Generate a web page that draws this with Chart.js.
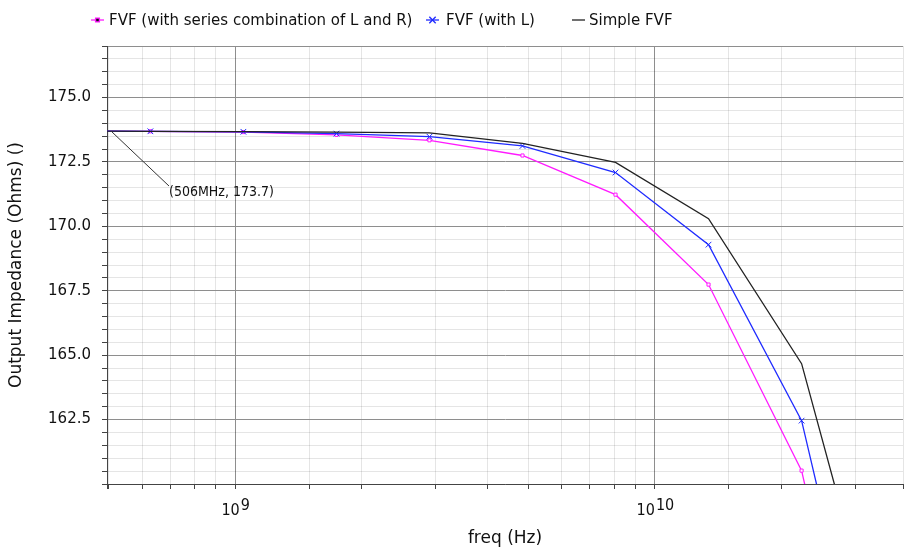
<!DOCTYPE html>
<html>
<head>
<meta charset="utf-8">
<script src="https://cdn.jsdelivr.net/npm/chart.js@4/dist/chart.umd.min.js"></script>
<style>
	html, body { margin: 0; background: #fff; }
	#wrap { width: 908px; height: 550px; }
</style>
</head>
<body>
<div id="wrap"><canvas id="zChart"></canvas></div>
<script>
// Data
const freqs      = [3.77e8, 6.28e8, 1.046e9, 1.743e9, 2.903e9, 4.836e9, 8.057e9, 1.342e10, 2.236e10, 3.725e10];
const zSeriesLR  = [173.70, 173.69, 173.66, 173.55, 173.34, 172.75, 171.23, 167.74, 160.52, 144.7];
const zWithL     = [173.70, 173.69, 173.67, 173.60, 173.48, 173.12, 172.09, 169.29, 162.46, 147.1];
const zSimple    = [173.70, 173.69, 173.68, 173.66, 173.63, 173.22, 172.48, 170.30, 164.67, 151.4];
const seriesNames = ['FVF (with series combination of L and R)', 'FVF (with L)', 'Simple FVF'];
const decades    = [1e9, 1e10];
const xRange     = [4.95e8, 3.9e10];
const yRange     = [160, 177];
const markerPoint = { f: 5.06e8, z: 173.7, text: '(506MHz, 173.7)' };

const FONT_C = '"DejaVu Sans Condensed", "DejaVu Sans", sans-serif';
const FONT = '"DejaVu Sans", sans-serif';
const TEXT = '#111';
const MAJOR_GRID = '#8e8e8e';
const MINOR_GRID = 'rgba(0,0,0,0.1)';   // translucent so it doesn't cut the major lines

const toPoints = (ys) => freqs.map((f, i) => ({ x: f, y: ys[i] }));
const isDecade = (v) => Math.abs(Math.log10(v) - Math.round(Math.log10(v))) < 1e-6;
const isMajorY = (v) => Math.abs(v / 2.5 - Math.round(v / 2.5)) < 1e-6;

// legend drawn by hand so it sits where the original does
const legendItems = [
	{ x: 91,  textX: 109, idx: 0 },
	{ x: 426, textX: 446, idx: 1 },
	{ x: 572, textX: 589, idx: 2 },
];

const legendPlugin = {
	id: 'handLegend',
	afterDraw(chart) {
		const ctx = chart.ctx;
		const y = 20;
		ctx.save();
		ctx.font = '15px ' + FONT;
		ctx.textBaseline = 'middle';
		ctx.fillStyle = TEXT;
		legendItems.forEach(item => {
			const ds = chart.data.datasets[item.idx];
			ctx.strokeStyle = ds.borderColor;
			ctx.lineWidth = 1.3;
			ctx.beginPath();
			ctx.moveTo(item.x, y);
			ctx.lineTo(item.x + 13, y);
			ctx.stroke();
			if (ds.pointRadius > 0) {
				Chart.helpers.drawPoint(ctx, {
					pointStyle: ds.pointStyle,
					radius: ds.pointRadius + 0.5,
					borderWidth: 1,
				}, item.x + 6.5, y);
			}
			ctx.fillText(seriesNames[item.idx], item.textX, y + 1);
		});
		ctx.restore();
	}
};

// 10^9 / 10^10 labels with a real superscript
const decadeLabels = {
	id: 'decadeLabels',
	afterDraw(chart) {
		const ctx = chart.ctx;
		const xs = chart.scales.x;
		const base = chart.chartArea.bottom + 31;
		ctx.save();
		ctx.fillStyle = TEXT;
		ctx.textBaseline = 'alphabetic';
		decades.forEach(d => {
			const px = xs.getPixelForValue(d);
			const exp = String(Math.round(Math.log10(d)));
			ctx.font = '16px ' + FONT_C;
			const wBase = ctx.measureText('10').width;
			const wExp = ctx.measureText(exp).width;
			const left = px - (wBase + wExp) / 2;
			ctx.fillText('10', left, base);
			ctx.fillText(exp, left + wBase + 1, base - 5);
		});
		ctx.restore();
	}
};

// the point marker with leader line
const pointMarker = {
	id: 'pointMarker',
	afterDatasetsDraw(chart) {
		const ctx = chart.ctx;
		const px = chart.scales.x.getPixelForValue(markerPoint.f);
		const py = chart.scales.y.getPixelForValue(markerPoint.z);
		ctx.save();
		ctx.strokeStyle = '#333';
		ctx.lineWidth = 1;
		ctx.beginPath();
		ctx.moveTo(px, py);
		ctx.lineTo(px + 58, py + 55);
		ctx.stroke();
		ctx.font = '14px ' + FONT_C;
		ctx.fillStyle = TEXT;
		ctx.textBaseline = 'middle';
		ctx.fillText(markerPoint.text, px + 58, py + 61);
		ctx.restore();
	}
};

new Chart(document.getElementById('zChart'), {
	type: 'line',
	data: {
		datasets: [
			{
				label: seriesNames[0],
				data: toPoints(zSeriesLR),
				borderColor: '#ff1aff',
				backgroundColor: '#ffffff',
				pointStyle: 'rect',
				pointRadius: 2.2,
				pointBorderWidth: 1,
				borderWidth: 1.3,
				order: 2,
			},
			{
				label: seriesNames[1],
				data: toPoints(zWithL),
				borderColor: '#1f2bff',
				backgroundColor: '#1f2bff',
				pointStyle: 'crossRot',
				pointRadius: 4,
				pointBorderWidth: 1,
				borderWidth: 1.3,
				order: 1,
			},
			{
				label: seriesNames[2],
				data: toPoints(zSimple),
				borderColor: '#222222',
				backgroundColor: '#222222',
				pointRadius: 0,
				borderWidth: 1.3,
				order: 0,
			},
		]
	},
	options: {
		responsive: true,
		maintainAspectRatio: false,
		animation: false,
		events: [],
		layout: { padding: { top: 46, right: 0, left: 0, bottom: 0 } },
		plugins: {
			legend: { display: false },
			tooltip: { enabled: false },
		},
		scales: {
			x: {
				type: 'logarithmic',
				min: xRange[0],
				max: xRange[1],
				afterFit: (s) => { s.height = 66; },
				ticks: { display: false, autoSkip: false },
				grid: {
					color: (c) => isDecade(c.tick.value) ? MAJOR_GRID : MINOR_GRID,
					tickColor: '#444',
					tickLength: 5,
					drawTicks: true,
				},
				border: { color: '#444', width: 1 },
				title: {
					display: true,
					text: 'freq (Hz)',
					color: TEXT,
					font: { family: FONT, size: 17 },
					padding: { top: 0, bottom: 1 },
				},
			},
			y: {
				min: yRange[0],
				max: yRange[1],
				afterFit: (s) => { s.width = 107; },
				ticks: {
					stepSize: 0.5,
					autoSkip: false,
					padding: 11,
					color: TEXT,
					font: { family: FONT, size: 15 },
					callback: (v) => (isMajorY(v) && v > yRange[0]) ? v.toFixed(1) : '',
				},
				grid: {
					color: (c) => (isMajorY(c.tick.value) || c.tick.value >= yRange[1]) ? MAJOR_GRID : MINOR_GRID,
					tickColor: '#444',
					tickLength: 5,
				},
				border: { color: '#444', width: 1 },
				title: {
					display: true,
					text: 'Output Impedance (Ohms) ()',
					color: TEXT,
					font: { family: FONT, size: 17 },
					padding: { top: 6, bottom: 0 },
				},
			},
		},
	},
	plugins: [legendPlugin, decadeLabels, pointMarker],
});
</script>
</body>
</html>
